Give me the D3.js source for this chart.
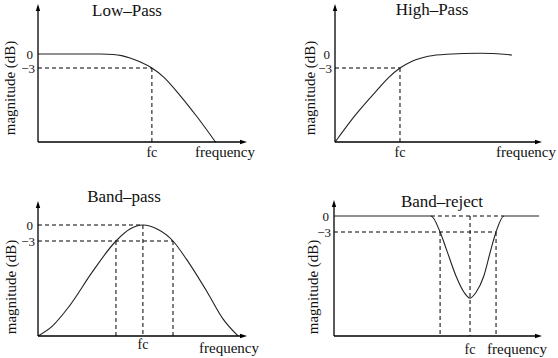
<!DOCTYPE html>
<html>
<head>
<meta charset="utf-8">
<script src="https://cdn.jsdelivr.net/npm/d3@7"></script>
<style>
  html, body { margin: 0; padding: 0; background: #fff; }
  svg text { font-family: "Liberation Serif", "Times New Roman", serif; fill: #111; }
</style>
</head>
<body>
<div id="chart"></div>
<script>
// frequency in arbitrary units (0..10 along each x axis), magnitude in dB
var lowPass = [[0, 0], [3, 0], [3.6, -0.1], [4.0, -0.35], [4.4, -0.85], [4.9, -1.7], [5.45, -3], [6, -4.9], [6.8, -8.9], [7.6, -13.4], [8.5, -18.9]];
var highPass = [[0, -18.9], [1, -13], [2, -7.9], [2.6, -5], [3.14, -3], [3.7, -1.6], [4.5, -0.5], [5.4, -0.05], [7, 0.15], [8.55, -0.2]];
var bandPass = [[0, -20.8], [0.7, -18.9], [1.5, -15.2], [2.6, -8.8], [3.73, -3], [4.4, -0.75], [5.02, 0], [5.7, -0.75], [6.46, -3], [7.1, -6.4], [8.1, -12.6], [8.85, -17.6], [9.57, -20.8]];
var bandReject = [[0, 0], [4.66, 0], [5.1, -3], [5.4, -6.2], [5.87, -11.3], [6.25, -14.3], [6.54, -15.4], [6.83, -14.3], [7.2, -11.3], [7.55, -6.2], [7.79, -3], [8.17, 0], [9.86, 0]];

var titles = ["Low\u2013Pass", "High\u2013Pass", "Band\u2013pass", "Band\u2013reject"];
var tickLabels = ["0", "\u22123"];
var tickValues = [0, -3];
var xLabel = "frequency";
var yLabel = "magnitude (dB)";
var fcLabel = "fc";

// cutoff / centre frequencies marked with dashed guides
var lowPassMarks = [5.45];
var highPassMarks = [3.14];
var bandPassMarks = [3.73, 5.02, 6.46];
var bandRejectMarks = [5.1, 6.54, 7.79];

var width = 558;
var height = 358;

const svg = d3.select("#chart")
  .append("svg")
  .attr("width", width)
  .attr("height", height)
  .attr("viewBox", [0, 0, width, height]);

// panel geometry (pixels)
var panels = [
  { data: lowPass, marks: lowPassMarks, title: titles[0], ax: 38, xEnd: 247, base: 142, top: 4, y0: 54, y3: 68,
    titleX: 127, titleY: 16, yLabX: 10, yLabY: 88, fcY: 157, freqX: 195, freqY: 157, zeroGuide: false },
  { data: highPass, marks: highPassMarks, title: titles[1], ax: 335, xEnd: 542, base: 142, top: 4, y0: 54, y3: 68,
    titleX: 432, titleY: 15, yLabX: 310, yLabY: 88, fcY: 157, freqX: 496, freqY: 157, zeroGuide: false },
  { data: bandPass, marks: bandPassMarks, title: titles[2], ax: 38, xEnd: 247, base: 336, top: 201, y0: 225, y3: 241,
    titleX: 124, titleY: 202, yLabX: 11, yLabY: 287, fcY: 349, freqX: 199, freqY: 353, zeroGuide: true },
  { data: bandReject, marks: bandRejectMarks, title: titles[3], ax: 334, xEnd: 542, base: 336, top: 200, y0: 216, y3: 232,
    titleX: 442, titleY: 207, yLabX: 313, yLabY: 287, fcY: 354, freqX: 487, freqY: 354, zeroGuide: true }
];

panels.forEach(function(p, i) {
  var x = d3.scaleLinear().domain([0, 10]).range([p.ax, p.xEnd]);
  var y = d3.scaleLinear().domain([0, -3]).range([p.y0, p.y3]);
  var g = svg.append("g");
  var line = d3.line()
    .x(function(d) { return x(d[0]); })
    .y(function(d) { return y(d[1]); })
    .curve(d3.curveMonotoneX);

  // dashed guides
  var dash = "4,3";
  var fcIdx = p.marks.length === 1 ? 0 : 1;
  var fc = p.marks[fcIdx];
  var lastMark = p.marks[p.marks.length - 1];

  // horizontal -3 dB guide
  g.append("line")
    .attr("x1", p.ax).attr("x2", x(lastMark))
    .attr("y1", y(-3)).attr("y2", y(-3))
    .attr("stroke", "#000").attr("stroke-width", 1).attr("stroke-dasharray", dash);

  if (p.zeroGuide) {
    var x0 = i === 2 ? p.ax : x(p.data[1][0]);
    var x1 = i === 2 ? x(fc) : x(p.data[p.data.length - 2][0]);
    g.append("line")
      .attr("x1", x0).attr("x2", x1)
      .attr("y1", y(0)).attr("y2", y(0))
      .attr("stroke", "#000").attr("stroke-width", 1).attr("stroke-dasharray", dash);
  }

  p.marks.forEach(function(m, k) {
    var fromY = (k === fcIdx && p.zeroGuide) ? y(0) : y(-3);
    g.append("line")
      .attr("x1", x(m)).attr("x2", x(m))
      .attr("y1", fromY).attr("y2", p.base)
      .attr("stroke", "#000").attr("stroke-width", 1).attr("stroke-dasharray", dash);
  });

  // response curve
  g.append("path")
    .attr("d", line(p.data))
    .attr("fill", "none")
    .attr("stroke", "#222")
    .attr("stroke-width", 1.1)
    .attr("stroke-linejoin", "round");

  // axes with arrowheads
  g.append("line")
    .attr("x1", p.ax).attr("x2", p.ax)
    .attr("y1", p.base).attr("y2", p.top + 4)
    .attr("stroke", "#000").attr("stroke-width", 1.3);
  g.append("line")
    .attr("x1", p.ax).attr("x2", p.xEnd - 4)
    .attr("y1", p.base).attr("y2", p.base)
    .attr("stroke", "#000").attr("stroke-width", 1.3);
  g.append("path")
    .attr("d", d3.line()([[p.ax, p.top], [p.ax - 2.2, p.top + 7], [p.ax + 2.2, p.top + 7]]) + "Z")
    .attr("fill", "#000");
  g.append("path")
    .attr("d", d3.line()([[p.xEnd, p.base], [p.xEnd - 7, p.base - 2.2], [p.xEnd - 7, p.base + 2.2]]) + "Z")
    .attr("fill", "#000");

  // tick labels
  tickValues.forEach(function(v, k) {
    g.append("text")
      .attr("x", p.ax - (k === 0 ? 5 : 3))
      .attr("y", y(v))
      .attr("dy", "0.35em")
      .attr("text-anchor", "end")
      .attr("font-size", 13)
      .text(tickLabels[k]);
  });

  // titles and labels
  g.append("text")
    .attr("x", p.titleX).attr("y", p.titleY)
    .attr("text-anchor", "middle")
    .attr("font-size", 17)
    .text(p.title);

  g.append("text")
    .attr("transform", "translate(" + p.yLabX + "," + p.yLabY + ") rotate(-90)")
    .attr("text-anchor", "middle")
    .attr("dy", "0.35em")
    .attr("font-size", 15)
    .text(yLabel);

  g.append("text")
    .attr("x", x(fc)).attr("y", p.fcY)
    .attr("text-anchor", "middle")
    .attr("font-size", 14)
    .text(fcLabel);

  g.append("text")
    .attr("x", p.freqX).attr("y", p.freqY)
    .attr("font-size", 15)
    .text(xLabel);
});
</script>
</body>
</html>
